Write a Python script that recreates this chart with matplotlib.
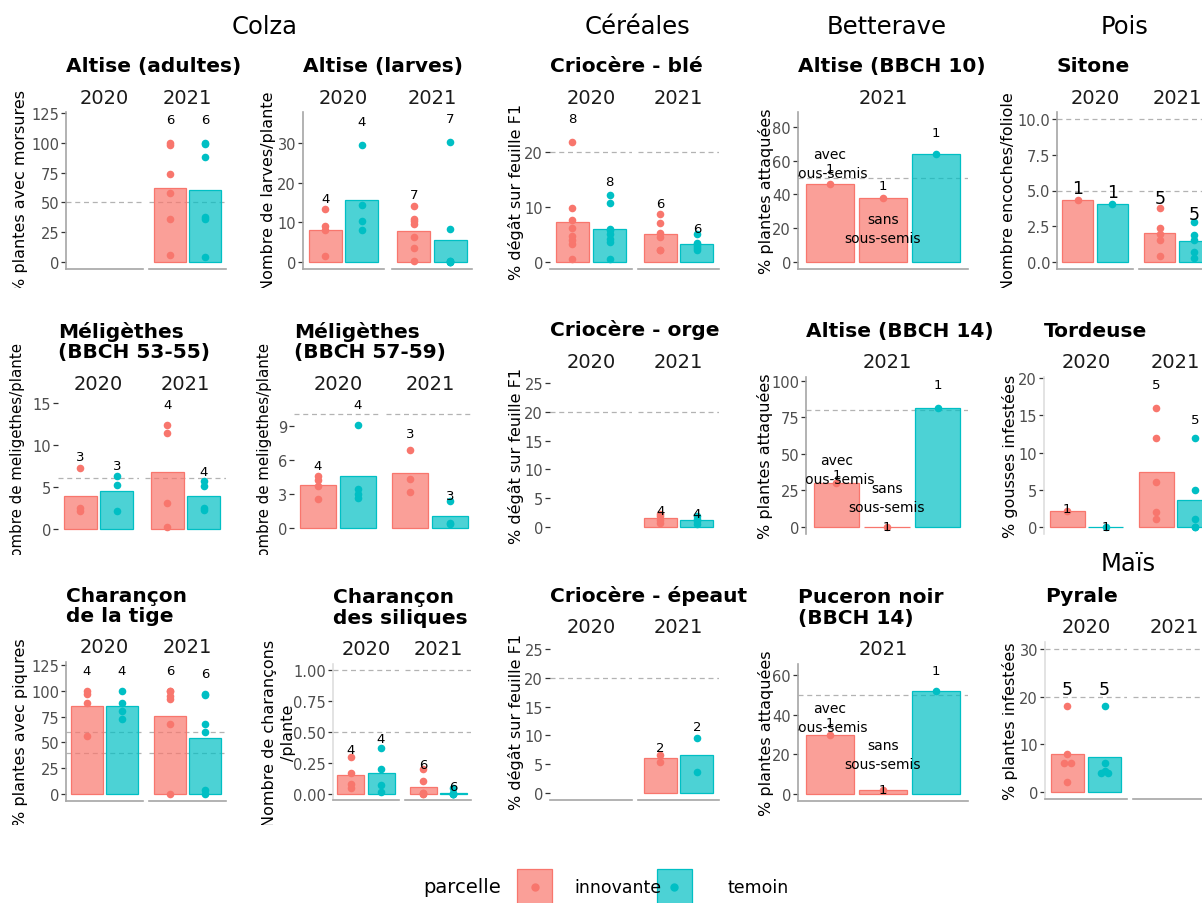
import matplotlib

matplotlib.use("Agg")
import matplotlib.pyplot as plt
from matplotlib.patches import Rectangle
from matplotlib.transforms import Bbox, TransformedBbox

W, H = 1202, 904
RED = "#F8766D"
TEAL = "#00BFC4"
ALPHA = 0.7

# ---- values: (innovante, temoin) per year ----
ALTISE_ADULTES = {"2021": ([100, 98, 74, 58, 36, 6], [100, 99, 88, 37.5, 36, 4])}
ALTISE_LARVES = {
    "2020": ([13.4, 9.1, 8.0, 1.5], [29.6, 14.3, 10.3, 8.0]),
    "2021": ([14.1, 10.8, 10.3, 9.6, 6.3, 3.5, 0.2], [30.3, 8.4, 0.2, 0.2, 0, 0, 0]),
}
CRIO_BLE = {
    "2020": ([21.8, 9.8, 7.7, 6.1, 4.7, 3.9, 3.2, 0.6], [12.2, 10.7, 6.0, 5.8, 5.0, 4.2, 3.6, 0.5]),
    "2021": ([8.8, 7.1, 5.3, 4.6, 2.1, 2.1], [5.0, 3.5, 3.2, 2.8, 2.6, 2.1]),
}
SITONE = {
    "2020": ([4.3], [4.05]),
    "2021": ([3.75, 2.4, 1.95, 1.5, 0.4], [2.8, 1.85, 1.5, 0.7, 0.3]),
}
MELI_53 = {
    "2020": ([7.2, 2.5, 2.1], [6.3, 5.2, 2.1]),
    "2021": ([12.4, 11.4, 3.1, 0.2], [5.7, 5.1, 2.5, 2.2]),
}
MELI_57 = {
    "2020": ([4.6, 4.2, 3.7, 2.5], [9.1, 3.45, 3.0, 2.6]),
    "2021": ([6.9, 4.3, 3.2], [2.4, 0.4, 0.3]),
}
CRIO_ORGE = {"2021": ([2.3, 1.8, 1.2, 0.7], [1.9, 1.4, 1.0, 0.5])}
TORDEUSE = {
    "2020": ([2.1], [0]),
    "2021": ([16, 12, 6, 2, 1], [12, 5, 1, 0, 0]),
}
CHAR_TIGE = {
    "2020": ([100, 97, 88, 56], [100, 88, 80, 72.5]),
    "2021": ([100, 100, 95, 92, 68, 0], [97, 96, 68, 60, 4, 0]),
}
CHAR_SILIQUES = {
    "2020": ([0.30, 0.17, 0.08, 0.05], [0.37, 0.20, 0.075, 0.013]),
    "2021": ([0.2, 0.1, 0.01, 0.01, 0, 0], [0.05, 0.01, 0, 0, 0, 0]),
}
CRIO_EPEAUTRE = {"2021": ([6.6, 5.4], [9.6, 3.6])}
PYRALE = {"2020": ([18, 8, 6, 6, 2], [18, 6, 4, 4, 4.4])}

# betterave: (avec sous-semis, sans sous-semis, temoin)
ALTISE_BBCH10 = {"2021": ([46], [38], [64])}
ALTISE_BBCH14 = {"2021": ([30], [0], [81.5])}
PUCERON = {"2021": ([30], [2], [52])}

TWO = [RED, TEAL]
THREE = [RED, RED, TEAL]
GREY_AX = "#a6a6a6"
LIGHT_AX = "#dedede"

C0, C1, C2, C3, C4 = (0, 246), (246, 497), (497, 748), (748, 996), (996, 1202)
R0, R1, R2 = (42, 289), (300, 556), (572, 826)

PANELS = [
    dict(title="Altise (adultes)", ylabel="% plantes avec morsures", data=ALTISE_ADULTES,
         years=["2020", "2021"], facets=[(66, 143), (149, 226)], box=(113, 270), ylim=(-6, 126),
         ticks=[0, 25, 50, 75, 100, 125], seuils=[50], ylab_x=21, cell=(C0, R0),
         yline=GREY_AX, xline=GREY_AX),
    dict(title="Altise (larves)", ylabel="Nombre de larves/plante", data=ALTISE_LARVES,
         years=["2020", "2021"], facets=[(303, 384), (392, 472)], box=(113, 270), ylim=(-1.8, 37.9),
         ticks=[0, 10, 20, 30], seuils=[], ylab_x=268, cell=(C1, R0),
         yline=GREY_AX, xline=GREY_AX),
    dict(title="Criocère - blé", ylabel="% dégât sur feuille F1", data=CRIO_BLE,
         years=["2020", "2021"], facets=[(550, 632), (638, 719)], box=(113, 270), ylim=(-1.3, 27.3),
         ticks=[0, 10, 20], seuils=[20], ylab_x=516, cell=(C2, R0),
         yline=None, xline=GREY_AX),
    dict(title="Altise (BBCH 10)", ylabel="% plantes attaquées", data=ALTISE_BBCH10,
         years=["2021"], facets=[(798, 968)], box=(113, 270), ylim=(-4.2, 88.9),
         ticks=[0, 20, 40, 60, 80], seuils=[50], ylab_x=766, cell=(C3, R0),
         yline=GREY_AX, xline=GREY_AX, groups=THREE),
    dict(title="Sitone", ylabel="Nombre encoches/foliole", data=SITONE,
         years=["2020", "2021"], facets=[(1057, 1133), (1139, 1215)], box=(113, 270), ylim=(-0.5, 10.5),
         ticks=[0, 2.5, 5, 7.5, 10], fmt="{:.1f}", seuils=[5, 10], ylab_x=1008, cell=(C4, R0),
         yline=GREY_AX, xline=GREY_AX, nsize=12.5),
    dict(title="Méligèthes\n(BBCH 53-55)", ylabel="Nombre de meligethes/plante", data=MELI_53,
         years=["2020", "2021"], facets=[(58, 139), (145, 226)], box=(399, 536), ylim=(-0.75, 15.6),
         ticks=[0, 5, 10, 15], seuils=[6], ylab_x=18, cell=(C0, R1),
         yline=None, xline=None, ylab_y=455, ylab_size=10.8),
    dict(title="Méligèthes\n(BBCH 57-59)", ylabel="Nombre de meligethes/plante", data=MELI_57,
         years=["2020", "2021"], facets=[(294, 382), (386, 474)], box=(399, 535), ylim=(-0.55, 11.45),
         ticks=[0, 3, 6, 9], seuils=[10], ylab_x=265, cell=(C1, R1),
         yline=None, xline=None, ylab_y=455, ylab_size=10.8),
    dict(title="Criocère - orge", ylabel="% dégât sur feuille F1", data=CRIO_ORGE,
         years=["2020", "2021"], facets=[(550, 632), (638, 719)], box=(377, 535), ylim=(-1.25, 26.25),
         ticks=[0, 5, 10, 15, 20, 25], seuils=[20], ylab_x=516, cell=(C2, R1),
         yline=None, xline=None),
    dict(title="Altise (BBCH 14)", ylabel="% plantes attaquées", data=ALTISE_BBCH14,
         years=["2021"], facets=[(806, 968)], box=(378, 535), ylim=(-4.8, 102.7),
         ticks=[0, 25, 50, 75, 100], seuils=[80], ylab_x=765, cell=(C3, R1),
         yline=GREY_AX, xline=None, groups=THREE),
    dict(title="Tordeuse", ylabel="% gousses infestées", data=TORDEUSE,
         years=["2020", "2021"], facets=[(1044, 1129), (1133, 1218)], box=(378, 535), ylim=(-0.96, 20.16),
         ticks=[0, 5, 10, 15, 20], seuils=[], ylab_x=1010, cell=(C4, R1),
         yline=LIGHT_AX, xline=None),
    dict(title="Charançon\nde la tige", ylabel="% plantes avec piqures", data=CHAR_TIGE,
         years=["2020", "2021"], facets=[(66, 143), (149, 226)], box=(663, 802), ylim=(-6.8, 128),
         ticks=[0, 25, 50, 75, 100, 125], seuils=[40, 60], ylab_x=21, cell=(C0, R2),
         yline=GREY_AX, xline=GREY_AX),
    dict(title="Charançon\ndes siliques", ylabel="Nombre de charançons\n/plante", data=CHAR_SILIQUES,
         years=["2020", "2021"], facets=[(333, 399), (405, 471)], box=(665, 801), ylim=(-0.05, 1.05),
         ticks=[0, 0.25, 0.5, 0.75, 1.0], fmt="{:.2f}", seuils=[0.5, 1.0], ylab_x=279, cell=(C1, R2),
         yline=LIGHT_AX, xline=GREY_AX),
    dict(title="Criocère - épeautre", ylabel="% dégât sur feuille F1", data=CRIO_EPEAUTRE,
         years=["2020", "2021"], facets=[(550, 632), (638, 719)], box=(643, 801), ylim=(-1.25, 26.25),
         ticks=[0, 5, 10, 15, 20, 25], seuils=[20], ylab_x=516, cell=(C2, R2),
         yline=None, xline=GREY_AX),
    dict(title="Puceron noir\n(BBCH 14)", ylabel="% plantes attaquées", data=PUCERON,
         years=["2021"], facets=[(798, 968)], box=(665, 802), ylim=(-3.5, 65.6),
         ticks=[0, 20, 40, 60], seuils=[50], ylab_x=766, cell=(C3, R2),
         yline=GREY_AX, xline=GREY_AX, groups=THREE),
    dict(title="Pyrale", ylabel="% plantes infestées", data=PYRALE,
         years=["2020", "2021"], facets=[(1045, 1127), (1133, 1215)], box=(643, 800), ylim=(-1.5, 31.5),
         ticks=[0, 10, 20, 30], seuils=[20, 30], ylab_x=1010, cell=(C4, R2),
         yline=LIGHT_AX, xline=GREY_AX, nsize=12.5, spread_ties=True),
]

HEADERS = [("Colza", 265, 27), ("Céréales", 637, 27), ("Betterave", 887, 27),
           ("Pois", 1125, 27), ("Maïs", 1128, 564)]
LEGEND_LABELS = ["innovante", "temoin"]


def fx(x):
    return x / W


def fy(y):
    return 1 - y / H


def cell_clip(fig, cell):
    (x0, x1), (y0, y1) = cell
    return TransformedBbox(Bbox.from_extents(fx(x0), fy(y1), fx(x1), fy(y0)), fig.transFigure)


def ftext(fig, x, y, s, clip=None, **kw):
    t = fig.text(fx(x), fy(y), s, **kw)
    if clip is not None:
        t.set_clip_box(clip)
        t.set_clip_on(True)
    return t


def fill(color):
    return matplotlib.colors.to_rgba(color, ALPHA)


def offsets(vals, spread):
    if not spread:
        return [0.0] * len(vals)
    out = []
    for i, v in enumerate(vals):
        ties = [j for j, w in enumerate(vals) if w == v]
        k = len(ties)
        pos = ties.index(i)
        out.append((pos - (k - 1) / 2) * 0.2)
    return out


def draw_panel(fig, p):
    top, bottom = p["box"]
    groups = p.get("groups", TWO)
    clip = cell_clip(fig, p["cell"])
    nsize = p.get("nsize", 9.5)
    for i, (year, (left, right)) in enumerate(zip(p["years"], p["facets"])):
        ax = fig.add_axes([fx(left), fy(bottom), fx(right - left), (bottom - top) / H])
        ax.set_xlim(0.4, len(groups) + 0.6)
        ax.set_ylim(*p["ylim"])
        ax.patch.set_alpha(0)
        ax.spines["top"].set_visible(False)
        ax.spines["right"].set_visible(False)
        ax.spines["left"].set_visible(i == 0 and p["yline"] is not None)
        if p["yline"]:
            ax.spines["left"].set_color(p["yline"])
            ax.spines["left"].set_linewidth(1.2)
        ax.spines["bottom"].set_visible(p["xline"] is not None)
        if p["xline"]:
            ax.spines["bottom"].set_color(p["xline"])
            ax.spines["bottom"].set_linewidth(1.2)
        ax.set_xticks([])
        if i == 0:
            fmt = p.get("fmt", "{:g}")
            ax.set_yticks(p["ticks"], [fmt.format(t) for t in p["ticks"]])
            ax.tick_params(axis="y", length=3.5, width=0.9, color="#333333", pad=1.5,
                           labelsize=10.5, labelcolor="#4d4d4d")
        else:
            ax.set_yticks([])

        for s in p["seuils"]:
            ax.axhline(s, color="#b3b3b3", lw=0.9, ls=(0, (4, 3)), zorder=0.5)

        series = p["data"].get(year)
        if series:
            for k, (vals, col) in enumerate(zip(series, groups)):
                x = k + 1
                mean = sum(vals) / len(vals)
                ax.bar(x, mean, width=0.9, facecolor=fill(col), edgecolor=col, lw=0.9, zorder=1)
                offs = offsets(vals, p.get("spread_ties", False))
                ax.scatter([x + o for o in offs], vals, s=30, color=col, zorder=3, lw=0)
                ax.text(x, max(vals) * 1.2, str(len(vals)), ha="center", va="center",
                        fontsize=nsize, color="black", zorder=4)
            if len(groups) == 3:
                ax.annotate("avec\nsous-semis", (1, max(series[0]) * 1.2), xytext=(0, 3.5),
                            textcoords="offset points", ha="center", va="center",
                            fontsize=10, annotation_clip=False, clip_on=True, zorder=4,
                            linespacing=1.45)
                ax.text(2, 20, "sans\nsous-semis", ha="center", va="center",
                        fontsize=10, clip_on=True, zorder=4, linespacing=1.45)

        ftext(fig, (left + right) / 2, top - 15, year, ha="center", va="center",
              fontsize=14, color="#1a1a1a")

    left0 = p["facets"][0][0]
    ftext(fig, left0, top - 37, p["title"], clip=clip, ha="left", va="bottom",
          fontsize=14.5, fontweight="bold", linespacing=1.1)
    ftext(fig, p["ylab_x"], p.get("ylab_y", (top + bottom) / 2), p["ylabel"], clip=clip,
          rotation=90, ha="center", va="center", fontsize=p.get("ylab_size", 11.5),
          multialignment="center", linespacing=1.35)


def main():
    fig = plt.figure(figsize=(W / 100, H / 100), dpi=100)
    for p in PANELS:
        draw_panel(fig, p)

    for name, x, y in HEADERS:
        ftext(fig, x, y, name, ha="center", va="center", fontsize=17.5)

    # legend
    ftext(fig, 462, 888, "parcelle", ha="center", va="center", fontsize=14)
    for (lx, tx), col, lab in zip([(517, 618), (657, 758)], TWO, LEGEND_LABELS):
        fig.add_artist(Rectangle((fx(lx), fy(906)), fx(35), 36 / H, transform=fig.transFigure,
                                 facecolor=fill(col), edgecolor=col, lw=0.9))
        fig.add_artist(matplotlib.lines.Line2D([fx(lx + 17.5)], [fy(888)], marker="o", ms=5,
                                               color=col, transform=fig.transFigure))
        ftext(fig, tx, 888, lab, ha="center", va="center", fontsize=12.5)

    fig.savefig("out.png", dpi=100, facecolor="white")


if __name__ == "__main__":
    main()
